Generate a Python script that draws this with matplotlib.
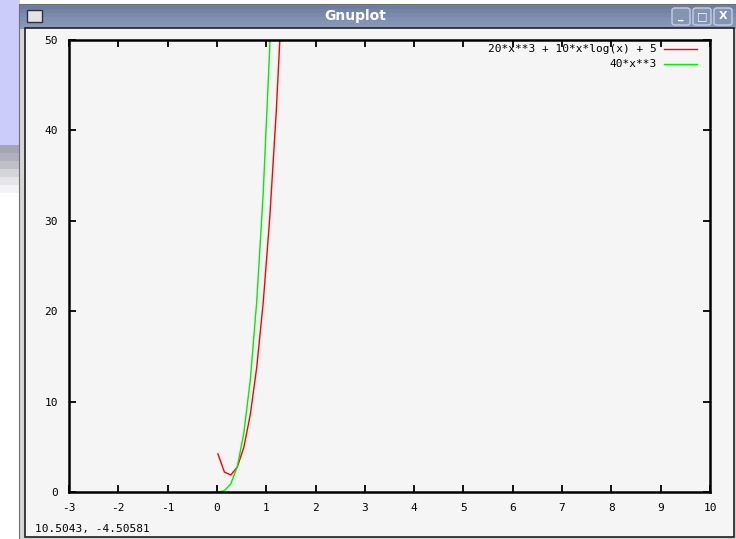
import matplotlib
matplotlib.use('Agg')
import matplotlib.pyplot as plt
from matplotlib.patches import Rectangle, FancyBboxPatch

red_x = [0.0202, 0.1515, 0.2828, 0.4141, 0.5455, 0.6768, 0.8081, 0.9394, 1.0707, 1.2020, 1.3333]
red_y = [4.21, 2.21, 1.88, 2.77, 4.94, 8.56, 13.83, 20.99, 30.28, 41.95, 56.25]
green_x = [-0.1111, 0.0202, 0.1515, 0.2828, 0.4141, 0.5455, 0.6768, 0.8081, 0.9394, 1.0707, 1.2020]
green_y = [-0.05, 0.0003, 0.14, 0.91, 2.84, 6.49, 12.40, 21.11, 33.16, 49.10, 69.47]

labels = ['20*x**3 + 10*x*log(x) + 5', '40*x**3']
x_ticks = list(range(-3, 11))
y_ticks = [0, 10, 20, 30, 40, 50]
status_text = '10.5043, -4.50581'

plt.rcParams['axes.unicode_minus'] = False
MONO = 'DejaVu Sans Mono'

W, H = 736, 539
fig = plt.figure(figsize=(W / 100, H / 100), dpi=100)
fig.patch.set_facecolor('white')


def box(x0, y0, x1, y1, **kw):
    # rectangle in pixel coords measured from top-left
    r = Rectangle((x0 / W, 1 - y1 / H), (x1 - x0) / W, (y1 - y0) / H,
                  transform=fig.transFigure, **kw)
    fig.patches.append(r)
    return r


# desktop behind the window
box(0, 0, 20, 145, facecolor='#ccccfa', edgecolor='none')
for i, c in enumerate(['#a4a4b4', '#b0b0bc', '#c0c0c8', '#d4d4da', '#e6e6ea', '#f4f4f6']):
    box(0, 145 + i * 8, 20, 153 + i * 8, facecolor=c, edgecolor='none')

# window frame + title bar
box(19, 4, 736, 539, facecolor='#d6d6d6', edgecolor='#707070', lw=0.8)
bar_cols = ['#6e7ea2', '#7484a7', '#7a8aab', '#8090b0', '#8594b3', '#8998b6']
for i, c in enumerate(bar_cols):
    box(20, 5 + i * 4, 736, 9 + i * 4, facecolor=c, edgecolor='none')
box(27, 10, 42, 22, facecolor='#e4e4e4', edgecolor='#303040', lw=1)
fig.text(355 / W, 1 - 16 / H, 'Gnuplot', color='white', ha='center', va='center',
         fontsize=10, fontweight='bold', family='DejaVu Sans')
for bx, glyph in [(672, '_'), (693, '□'), (714, 'X')]:
    b = FancyBboxPatch((bx / W, 1 - 25 / H), 18 / W, 17 / H, boxstyle='round,pad=0,rounding_size=0.004',
                       transform=fig.transFigure, facecolor='#8494b4', edgecolor='#c8d0e0', lw=1)
    fig.patches.append(b)
    fig.text((bx + 9) / W, 1 - 16 / H, glyph, color='white', ha='center', va='center',
             fontsize=8, fontweight='bold')

# client area of the window
box(25, 28, 734, 537, facecolor='#f5f5f5', edgecolor='#202020', lw=1.2)

ax = fig.add_axes([69 / W, 1 - 492 / H, (710 - 69) / W, (492 - 40) / H])
ax.set_zorder(10)
ax.set_facecolor('#f5f5f5')
ax.plot(red_x, red_y, color='#ff0000', lw=1, label=labels[0])
ax.plot(green_x, green_y, color='#00ee00', lw=1, label=labels[1])
ax.set_xlim(-3, 10)
ax.set_ylim(0, 50)
ax.set_xticks(x_ticks)
ax.set_yticks(y_ticks)
ax.tick_params(direction='in', length=5, width=1.3, top=True, right=True,
               labelsize=8, pad=8, colors='black')
for t in ax.get_xticklabels() + ax.get_yticklabels():
    t.set_family(MONO)
for s in ax.spines.values():
    s.set_linewidth(1.8)

leg = ax.legend(loc='upper right', bbox_to_anchor=(0.9866, 1.0), frameon=False,
                prop={'family': MONO, 'size': 8}, markerfirst=False, handlelength=3.0,
                handletextpad=0.6, borderaxespad=0.0, labelspacing=0.45)
for t in leg.get_texts():
    t.set_ha('right')

fig.text(35 / W, 1 - 529 / H, status_text, fontsize=8, family=MONO, va='center',
         ha='left', zorder=11)

fig.savefig('out.png', dpi=100, facecolor=fig.get_facecolor())
